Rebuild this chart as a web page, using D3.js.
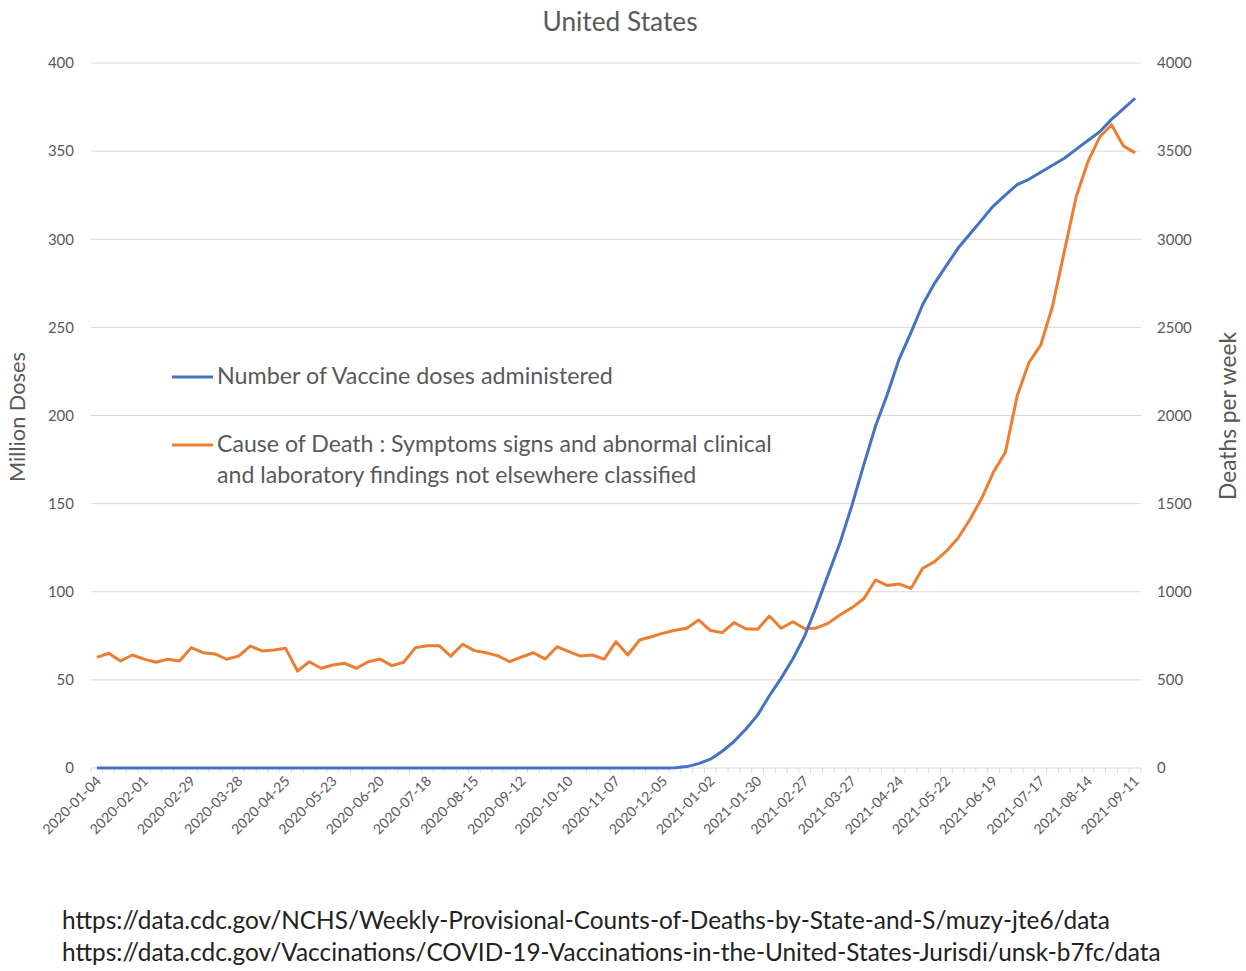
<!DOCTYPE html>
<html>
<head>
<meta charset="UTF-8">
<script src="https://d3js.org/d3.v7.min.js"></script>
<style>
  body { margin: 0; background: #fff; }
  svg text { font-family: Lato, "Open Sans", sans-serif; }
</style>
</head>
<body>
<svg></svg>
<script>
  let width = 1246, height = 971;

  // weekly series, 2020-01-04 .. 2021-09-11 (89 weeks)
  const startWeek = "2020-01-04";
  const doses = [
    0, 0, 0, 0, 0, 0, 0, 0, 0, 0, 0, 0, 0, 0, 0, 0, 0, 0, 0, 0,
    0, 0, 0, 0, 0, 0, 0, 0, 0, 0, 0, 0, 0, 0, 0, 0, 0, 0, 0, 0,
    0, 0, 0, 0, 0, 0, 0, 0, 0, 0.1, 0.8, 2.5, 5, 9.5, 15, 22, 30, 41, 51, 62,
    75, 92, 110, 128, 149, 172, 194, 212, 232, 247, 263, 275, 285, 295, 303, 311, 319, 325, 331, 334,
    338, 342, 346, 351, 356, 361, 368, 374, 380
  ];
  const deaths = [
    628, 651, 607, 641, 618, 600, 617, 607, 683, 654, 647, 617, 635, 692, 664, 669, 679, 550, 603, 566,
    584, 594, 566, 603, 618, 581, 600, 683, 694, 694, 635, 702, 666, 654, 636, 603, 630, 654, 618, 688,
    660, 635, 641, 618, 717, 641, 726, 745, 765, 782, 793, 840, 780, 768, 825, 790, 787, 862, 793, 830,
    790, 795, 822, 870, 910, 960, 1067, 1035, 1044, 1019, 1133, 1171, 1230, 1305, 1410, 1530, 1680, 1790, 2110, 2300,
    2400, 2620, 2930, 3240, 3440, 3580, 3650, 3530, 3490
  ];
  const tickLabels = [
    "2020-01-04", "2020-02-01", "2020-02-29", "2020-03-28", "2020-04-25", "2020-05-23",
    "2020-06-20", "2020-07-18", "2020-08-15", "2020-09-12", "2020-10-10", "2020-11-07",
    "2020-12-05", "2021-01-02", "2021-01-30", "2021-02-27", "2021-03-27", "2021-04-24",
    "2021-05-22", "2021-06-19", "2021-07-17", "2021-08-14", "2021-09-11"
  ];
  const leftTicks = [0, 50, 100, 150, 200, 250, 300, 350, 400];
  const rightTicks = [0, 500, 1000, 1500, 2000, 2500, 3000, 3500, 4000];
  const sources = [
    "https://data.cdc.gov/NCHS/Weekly-Provisional-Counts-of-Deaths-by-State-and-S/muzy-jte6/data",
    "https://data.cdc.gov/Vaccinations/COVID-19-Vaccinations-in-the-United-States-Jurisdi/unsk-b7fc/data"
  ];

  const fmt = d3.utcFormat("%Y-%m-%d");
  const t0 = d3.utcParse("%Y-%m-%d")(startWeek);
  const weeks = doses.map((d, i) => fmt(d3.utcDay.offset(t0, 7 * i)));

  const blue = "#4472C4", orange = "#ED7D31", grey = "#595959", grid = "#d9d9d9";

  let svg = d3.select("svg")
    .attr("width", width)
    .attr("height", height);

  let x = d3.scalePoint().domain(weeks).range([91, 1141]).padding(0.5);
  let yL = d3.scaleLinear().domain([0, 400]).range([768, 63]);
  let yR = d3.scaleLinear().domain([0, 4000]).range([768, 63]);

  // fit text to a target width by adjusting its font size
  function fitWidth(sel, target) {
    let fs = parseFloat(sel.style("font-size"));
    let w = sel.node().getComputedTextLength();
    if (w > 0) sel.style("font-size", (fs * target / w).toFixed(2) + "px");
  }

  // title
  let title = svg.append("text")
    .attr("x", 620).attr("y", 31)
    .attr("text-anchor", "middle")
    .attr("fill", grey)
    .style("font-size", "24px")
    .text("United States");
  fitWidth(title, 155);

  // gridlines
  svg.append("g")
    .selectAll("line")
    .data(leftTicks.filter(d => d > 0))
    .enter().append("line")
    .attr("x1", 91).attr("x2", 1141)
    .attr("y1", d => yL(d)).attr("y2", d => yL(d))
    .attr("stroke", grid).attr("stroke-width", 1);

  // left axis
  let gL = svg.append("g")
    .attr("transform", "translate(91,0)")
    .call(d3.axisLeft(yL).tickValues(leftTicks).tickSize(0).tickPadding(17));
  gL.select(".domain").remove();
  gL.selectAll("text").attr("fill", grey).style("font-size", "15px");

  // right axis
  let gR = svg.append("g")
    .attr("transform", "translate(1141,0)")
    .call(d3.axisRight(yR).tickValues(rightTicks).tickFormat(d3.format("d")).tickSize(0).tickPadding(16));
  gR.select(".domain").remove();
  gR.selectAll("text").attr("fill", grey).style("font-size", "15px");

  // category axis
  svg.append("line")
    .attr("x1", 91).attr("x2", 1141)
    .attr("y1", 768).attr("y2", 768)
    .attr("stroke", grid);
  let step = x.step();
  svg.append("g")
    .selectAll("line")
    .data(d3.range(weeks.length + 1))
    .enter().append("line")
    .attr("x1", i => 91 + i * step).attr("x2", i => 91 + i * step)
    .attr("y1", 768).attr("y2", 773)
    .attr("stroke", grid);
  svg.append("g")
    .selectAll("text")
    .data(tickLabels)
    .enter().append("text")
    .attr("transform", d => "translate(" + (x(d) + 5) + ",782) rotate(-45)")
    .attr("text-anchor", "end")
    .attr("fill", grey)
    .style("font-size", "14px")
    .text(d => d);

  // axis titles
  let tl = svg.append("text")
    .attr("transform", "translate(25,417) rotate(-90)")
    .attr("text-anchor", "middle")
    .attr("fill", grey)
    .style("font-size", "18px")
    .text("Million Doses");
  fitWidth(tl, 130);
  let tr = svg.append("text")
    .attr("transform", "translate(1236,416) rotate(-90)")
    .attr("text-anchor", "middle")
    .attr("fill", grey)
    .style("font-size", "18px")
    .text("Deaths per week");
  fitWidth(tr, 168);

  // lines
  let lineL = d3.line().x((d, i) => x(weeks[i])).y(d => yL(d));
  let lineR = d3.line().x((d, i) => x(weeks[i])).y(d => yR(d));

  svg.append("path")
    .datum(deaths)
    .attr("d", lineR)
    .attr("fill", "none")
    .attr("stroke", orange)
    .attr("stroke-width", 3)
    .attr("stroke-linejoin", "round");

  svg.append("path")
    .datum(doses)
    .attr("d", lineL)
    .attr("fill", "none")
    .attr("stroke", blue)
    .attr("stroke-width", 3)
    .attr("stroke-linejoin", "round");

  // legend
  let legend = svg.append("g");
  legend.append("line")
    .attr("x1", 172).attr("x2", 213).attr("y1", 377).attr("y2", 377)
    .attr("stroke", blue).attr("stroke-width", 3);
  let l1 = legend.append("text")
    .attr("x", 217).attr("y", 384)
    .attr("fill", grey)
    .style("font-size", "18px")
    .text("Number of Vaccine doses administered");
  fitWidth(l1, 396);

  legend.append("line")
    .attr("x1", 172).attr("x2", 213).attr("y1", 445).attr("y2", 445)
    .attr("stroke", orange).attr("stroke-width", 3);
  let l2 = legend.append("text")
    .attr("x", 217).attr("y", 452)
    .attr("fill", grey)
    .style("font-size", "18px")
    .text("Cause of Death : Symptoms signs and abnormal clinical");
  fitWidth(l2, 555);
  legend.append("text")
    .attr("x", 217).attr("y", 483)
    .attr("fill", grey)
    .style("font-size", l2.style("font-size"))
    .text("and laboratory findings not elsewhere classified");

  // sources
  let s1 = svg.append("text")
    .attr("x", 62).attr("y", 929)
    .attr("fill", "#222")
    .style("font-size", "20px")
    .text(sources[0]);
  fitWidth(s1, 1048);
  svg.append("text")
    .attr("x", 62).attr("y", 961)
    .attr("fill", "#222")
    .style("font-size", s1.style("font-size"))
    .text(sources[1]);
</script>
</body>
</html>
